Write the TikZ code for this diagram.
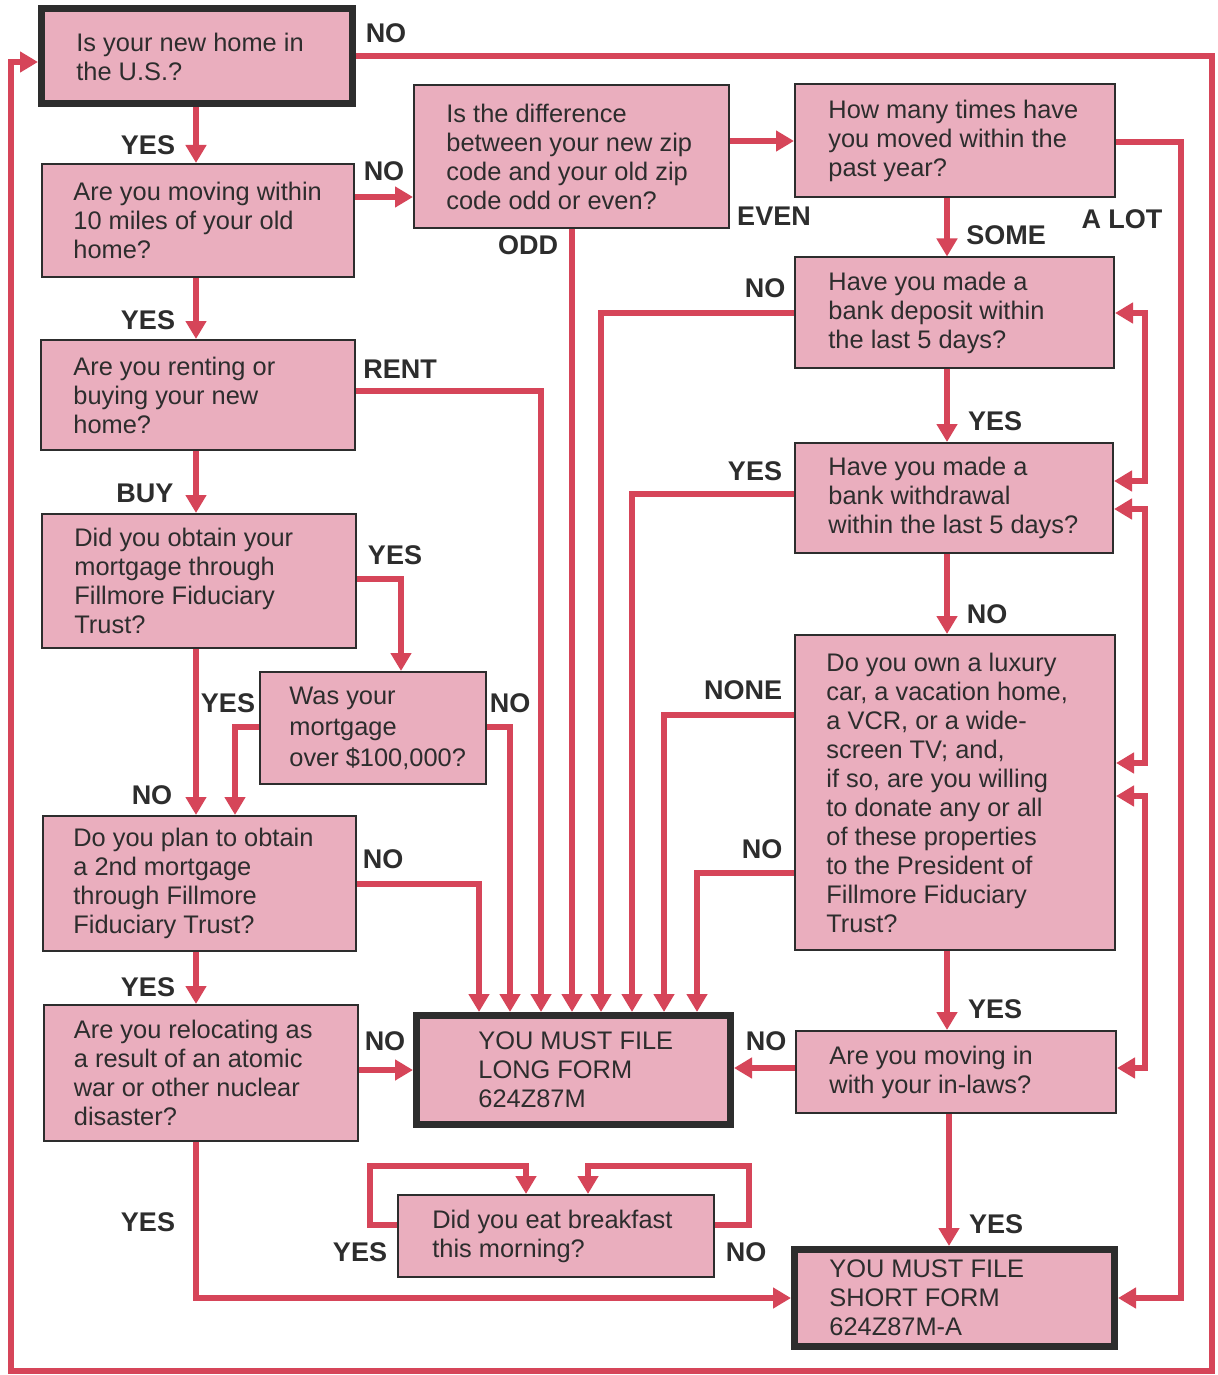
\documentclass[tikz,border=0pt]{standalone}
\usepackage{fontspec}
\setmainfont{Liberation Sans}
\usetikzlibrary{arrows.meta,calc}
\definecolor{lred}{RGB}{214,69,89}
\definecolor{pinkfill}{RGB}{234,174,190}
\definecolor{ink}{RGB}{45,45,45}
\begin{document}
\begin{tikzpicture}[x=0.5pt,y=-0.5pt,
  box/.style={draw=ink, line width=1pt, fill=pinkfill, inner sep=0pt},
  endbox/.style={box, line width=3.5pt},
  txt/.style={anchor=west, align=left, font=\fontsize{12.7}{14.5}\selectfont, text=ink, inner sep=0pt},
  lbl/.style={font=\fontsize{13.5}{14}\selectfont\bfseries, text=ink, inner sep=0pt},
  wire/.style={draw=lred, line width=3.4pt},
  arr/.style={wire, -{Triangle[width=10pt,length=9pt]}},
  darr/.style={wire, {Triangle[width=10pt,length=9pt]}-{Triangle[width=10pt,length=9pt]}},
]
\fill[white] (0,0) rectangle (1218,1375);
\useasboundingbox (0,0) rectangle (1218,1375);

% boxes
\node[endbox, minimum width=155.5pt, minimum height=47.5pt] (b1) at (197,56.5) {};
\node[box, minimum width=156pt, minimum height=56.5pt] (b2) at (198,220.5) {};
\node[box, minimum width=157pt, minimum height=55pt] (b3) at (198,395) {};
\node[box, minimum width=157pt, minimum height=67pt] (b4) at (199,581) {};
\node[box, minimum width=113pt, minimum height=56pt] (b5) at (373,728) {};
\node[box, minimum width=156.5pt, minimum height=67.5pt] (b6) at (199.5,883.5) {};
\node[box, minimum width=157pt, minimum height=68pt] (b7) at (200.5,1073) {};
\node[endbox, minimum width=157pt, minimum height=54.5pt] (b8) at (573.5,1070) {};
\node[box, minimum width=158pt, minimum height=41pt] (b9) at (556,1236) {};
\node[box, minimum width=157.5pt, minimum height=71.5pt] (b10) at (571.5,156.5) {};
\node[box, minimum width=160pt, minimum height=56.5pt] (b11) at (955,140.5) {};
\node[box, minimum width=159.5pt, minimum height=55pt] (b12) at (954.5,312.5) {};
\node[box, minimum width=159pt, minimum height=55pt] (b13) at (954,498) {};
\node[box, minimum width=160pt, minimum height=157.5pt] (b14) at (955,792.5) {};
\node[box, minimum width=160pt, minimum height=41pt] (b15) at (956,1072) {};
\node[endbox, minimum width=160pt, minimum height=48.5pt] (b16) at (954.5,1298) {};

% texts
\node[txt] (t1) at ([xshift=19pt]b1.west) {Is your new home in\\the U.S.?};
\node[txt] (t2) at ([xshift=16pt]b2.west) {Are you moving within\\10 miles of your old\\home?};
\node[txt] (t3) at ([xshift=16.5pt]b3.west) {Are you renting or\\buying your new\\home?};
\node[txt] (t4) at ([xshift=16.5pt]b4.west) {Did you obtain your\\mortgage through\\Fillmore Fiduciary\\Trust?};
\node[txt, font=\fontsize{12.7}{15.5}\selectfont] (t5) at ([xshift=15pt]b5.west) {Was your\\mortgage\\over \$100,000?};
\node[txt] (t6) at ([xshift=15.5pt]b6.west) {Do you plan to obtain\\a 2nd mortgage\\through Fillmore\\Fiduciary Trust?};
\node[txt] (t7) at ([xshift=15.5pt]b7.west) {Are you relocating as\\a result of an atomic\\war or other nuclear\\disaster?};
\node[txt] (t8) at ([xshift=32.5pt]b8.west) {YOU MUST FILE\\LONG FORM\\624Z87M};
\node[txt] (t9) at ([xshift=17.5pt]b9.west) {Did you eat breakfast\\this morning?};
\node[txt] (t10) at ([xshift=16.5pt]b10.west) {Is the difference\\between your new zip\\code and your old zip\\code odd or even?};
\node[txt] (t11) at ([xshift=17pt]b11.west) {How many times have\\you moved within the\\past year?};
\node[txt] (t12) at ([xshift=17pt]b12.west) {Have you made a\\bank deposit within\\the last 5 days?};
\node[txt] (t13) at ([xshift=17pt]b13.west) {Have you made a\\bank withdrawal\\within the last 5 days?};
\node[txt] (t14) at ([xshift=16pt]b14.west) {Do you own a luxury\\car, a vacation home,\\a VCR, or a wide-\\screen TV; and,\\if so, are you willing\\to donate any or all\\of these properties\\to the President of\\Fillmore Fiduciary\\Trust?};
\node[txt] (t15) at ([xshift=17pt]b15.west) {Are you moving in\\with your in-laws?};
\node[txt] (t16) at ([xshift=19pt]b16.west) {YOU MUST FILE\\SHORT FORM\\624Z87M-A};

% connectors: left column
\draw[arr] (b1.south -| 196,0) -- (b2.north -| 196,0);
\draw[arr] (b2.east |- 0,197) -- (b10.west |- 0,197);
\draw[arr] (b2.south -| 196,0) -- (b3.north -| 196,0);
\draw[arr] (b3.east |- 0,391) -| (b8.north -| 541,0);
\draw[arr] (b3.south -| 196,0) -- (b4.north -| 196,0);
\draw[arr] (b4.east |- 0,579) -| (b5.north -| 401,0);
\draw[arr] (b4.south -| 196,0) -- (b6.north -| 196,0);
\draw[arr] (b5.west |- 0,727) -| (b6.north -| 235,0);
\draw[arr] (b5.east |- 0,727) -| (b8.north -| 510,0);
\draw[arr] (b6.east |- 0,884) -| (b8.north -| 479,0);
\draw[arr] (b6.south -| 196,0) -- (b7.north -| 196,0);
\draw[arr] (b7.east |- 0,1070) -- (b8.west |- 0,1070);
\draw[arr] (b7.south -| 196,0) |- (b16.west |- 0,1298);

% top loop
\draw[arr] (b1.east |- 0,56) -- (1212,56) -- (1212,1371) -- (11,1371) -- (11,62) -- (b1.west |- 0,62);

% middle / right column
\draw[arr] (b10.east |- 0,141) -- (b11.west |- 0,141);
\draw[arr] (b10.south -| 572,0) -- (b8.north -| 572,0);
\draw[arr] (b11.south -| 947,0) -- (b12.north -| 947,0);
\draw[arr] (b11.east |- 0,142) -- (1181,142) |- (b16.east |- 0,1298);
\draw[arr] (b12.south -| 947,0) -- (b13.north -| 947,0);
\draw[arr] (b13.south -| 947,0) -- (b14.north -| 947,0);
\draw[arr] (b14.south -| 947,0) -- (b15.north -| 947,0);
\draw[arr] (b15.south -| 949,0) -- (b16.north -| 949,0);
\draw[arr] (b12.west |- 0,313) -| (b8.north -| 601,0);
\draw[arr] (b13.west |- 0,494) -| (b8.north -| 632,0);
\draw[arr] (b14.west |- 0,715) -| (b8.north -| 664,0);
\draw[arr] (b14.west |- 0,873) -| (b8.north -| 697,0);
\draw[arr] (b15.west |- 0,1068) -- (b8.east |- 0,1068);

% brackets on the right
\draw[darr] (b12.east |- 0,313) -- (1145,313) -- (1145,481) -- (b13.east |- 0,481);
\draw[darr] (b13.east |- 0,509) -- (1145,509) -- (1145,763) -- (b14.east |- 0,763);
\draw[darr] (b14.east |- 0,796) -- (1145,796) -- (1145,1068) -- (b15.east |- 0,1068);

% breakfast loops
\draw[arr] (b9.west |- 0,1225) -- (370,1225) -- (370,1166) -| (b9.north -| 526,0);
\draw[arr] (b9.east |- 0,1225) -- (749,1225) -- (749,1166) -| (b9.north -| 588,0);

% labels
\node[lbl] (l1) at (386,33) {NO};
\node[lbl] (l2) at (148,145) {YES};
\node[lbl] (l3) at (384,171) {NO};
\node[lbl] (l4) at (148,320) {YES};
\node[lbl] (l5) at (400,369) {RENT};
\node[lbl] (l6) at (145,493) {BUY};
\node[lbl] (l7) at (395,555) {YES};
\node[lbl] (l8) at (228,703) {YES};
\node[lbl] (l9) at (510,703) {NO};
\node[lbl] (l10) at (152,795) {NO};
\node[lbl] (l11) at (383,859) {NO};
\node[lbl] (l12) at (148,987) {YES};
\node[lbl] (l13) at (385,1041) {NO};
\node[lbl] (l14) at (148,1222) {YES};
\node[lbl] (l15) at (360,1252) {YES};
\node[lbl] (l16) at (746,1252) {NO};
\node[lbl] (l17) at (766,1041) {NO};
\node[lbl] (l18) at (528,245) {ODD};
\node[lbl] (l19) at (774,216) {EVEN};
\node[lbl] (l20) at (1006,235) {SOME};
\node[lbl] (l21) at (1122,219) {A LOT};
\node[lbl] (l22) at (765,288) {NO};
\node[lbl] (l23) at (995,421) {YES};
\node[lbl] (l24) at (755,471) {YES};
\node[lbl] (l25) at (987,614) {NO};
\node[lbl] (l26) at (743,690) {NONE};
\node[lbl] (l27) at (762,849) {NO};
\node[lbl] (l28) at (995,1009) {YES};
\node[lbl] (l29) at (996,1224) {YES};
\end{tikzpicture}
\end{document}
